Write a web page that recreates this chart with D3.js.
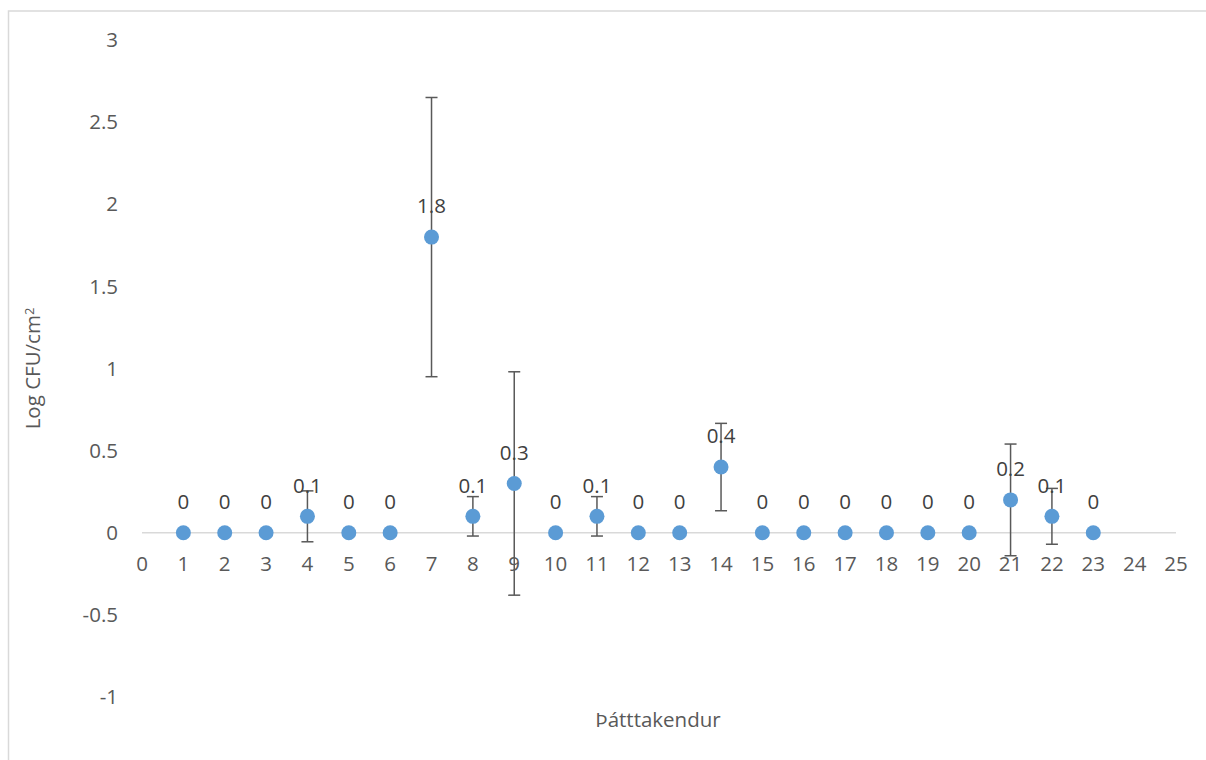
<!DOCTYPE html>
<html>
<head>
<meta charset="utf-8">
<script src="https://cdn.jsdelivr.net/npm/d3@7"></script>
<style>
  body { margin: 0; background: #fff; }
  svg { display: block; font-family: "Open Sans", sans-serif; }
</style>
</head>
<body>
<div id="chart"></div>
<script>
// participants (x) and measured values
const participants = [1, 2, 3, 4, 5, 6, 7, 8, 9, 10, 11, 12, 13, 14, 15, 16, 17, 18, 19, 20, 21, 22, 23];
const logCfu = [0, 0, 0, 0.1, 0, 0, 1.8, 0.1, 0.3, 0, 0.1, 0, 0, 0.4, 0, 0, 0, 0, 0, 0, 0.2, 0.1, 0];
// +/- error (0 = no bar)
const errors = [0, 0, 0, 0.155, 0, 0, 0.85, 0.12, 0.68, 0, 0.12, 0, 0, 0.266, 0, 0, 0, 0, 0, 0, 0.34, 0.17, 0];

const xTicks = d3.range(0, 26);
const yTicks = [-1, -0.5, 0, 0.5, 1, 1.5, 2, 2.5, 3];

const xTitle = "Þátttakendur";
const yTitle = "Log CFU/cm";

const W = 1206, H = 760;

const svg = d3.select("#chart").append("svg")
    .attr("width", W)
    .attr("height", H);

// chart frame
svg.append("path")
    .attr("d", `M${W + 2},11 H8.5 V${H + 2}`)
    .attr("fill", "none")
    .attr("stroke", "#d9d9d9")
    .attr("stroke-width", 1.5);

const x = d3.scaleLinear().domain([0, 25]).range([142, 1176]);
const y = d3.scaleLinear().domain([-1, 3]).range([697, 40]);

const txt = "#595959";
const fs = "20.5px";

// y tick labels
svg.append("g").selectAll("text")
    .data(yTicks)
    .enter()
    .append("text")
    .attr("x", 118)
    .attr("y", d => y(d))
    .attr("dy", "0.35em")
    .attr("text-anchor", "end")
    .attr("fill", txt)
    .style("font-size", fs)
    .text(d => d);

// horizontal axis line at zero
svg.append("line")
    .attr("x1", x(0))
    .attr("x2", x(25))
    .attr("y1", y(0))
    .attr("y2", y(0))
    .attr("stroke", "#d9d9d9")
    .attr("stroke-width", 1.5);

// x tick labels
svg.append("g").selectAll("text")
    .data(xTicks)
    .enter()
    .append("text")
    .attr("x", d => x(d))
    .attr("y", y(0) + 31)
    .attr("dy", "0.35em")
    .attr("text-anchor", "middle")
    .attr("fill", txt)
    .style("font-size", fs)
    .text(d => d);

const pts = participants.map((p, i) => ({ p, v: logCfu[i], e: errors[i] }));

// error bars
const eb = svg.append("g")
    .attr("stroke", "#595959")
    .attr("stroke-width", 1.5)
    .selectAll("g")
    .data(pts.filter(d => d.e > 0))
    .enter()
    .append("g");

eb.append("line")
    .attr("x1", d => x(d.p))
    .attr("x2", d => x(d.p))
    .attr("y1", d => y(d.v + d.e))
    .attr("y2", d => y(d.v - d.e));

eb.append("line")
    .attr("x1", d => x(d.p) - 6)
    .attr("x2", d => x(d.p) + 6)
    .attr("y1", d => y(d.v + d.e))
    .attr("y2", d => y(d.v + d.e));

eb.append("line")
    .attr("x1", d => x(d.p) - 6)
    .attr("x2", d => x(d.p) + 6)
    .attr("y1", d => y(d.v - d.e))
    .attr("y2", d => y(d.v - d.e));

// markers
svg.append("g").selectAll("circle")
    .data(pts)
    .enter()
    .append("circle")
    .attr("cx", d => x(d.p))
    .attr("cy", d => y(d.v))
    .attr("r", 7.5)
    .attr("fill", "#5b9bd5");

// data labels
svg.append("g").selectAll("text")
    .data(pts)
    .enter()
    .append("text")
    .attr("x", d => x(d.p))
    .attr("y", d => y(d.v) - 31)
    .attr("dy", "0.35em")
    .attr("text-anchor", "middle")
    .attr("fill", "#404040")
    .style("font-size", fs)
    .text(d => d.v);

// axis titles
svg.append("text")
    .attr("x", 658)
    .attr("y", 720)
    .attr("dy", "0.35em")
    .attr("text-anchor", "middle")
    .attr("fill", txt)
    .style("font-size", fs)
    .text(xTitle);

const yt = svg.append("text")
    .attr("transform", `translate(33,${y(1)}) rotate(-90)`)
    .attr("dy", "0.35em")
    .attr("text-anchor", "middle")
    .attr("fill", txt)
    .style("font-size", fs)
    .text(yTitle);
yt.append("tspan")
    .attr("dy", "-0.45em")
    .style("font-size", "13px")
    .text("2");
</script>
</body>
</html>
